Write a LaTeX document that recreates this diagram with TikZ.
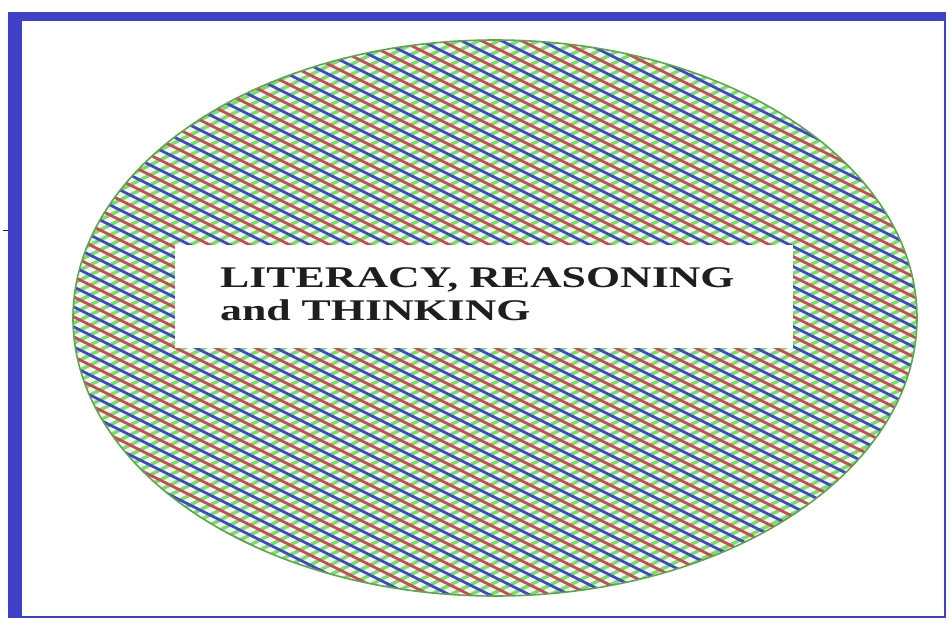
\documentclass[tikz,border=0pt]{standalone}
\usepackage{fontspec}
\setmainfont{Liberation Serif}
\newfontfamily\labelfont[FakeStretch=1.46]{Liberation Serif}
\definecolor{framblue}{RGB}{64,64,200}
\definecolor{hred}{RGB}{205,70,90}
\definecolor{hblue}{RGB}{70,70,205}
\definecolor{hgreen}{RGB}{125,220,105}
\definecolor{txtgray}{RGB}{30,30,30}
\tikzset{
  framebar/.style={fill=framblue, draw=none},
  hatchA/.style={line width=2.8pt},
  hatchB/.style={hgreen, line width=3.4pt},
  labeltext/.style={anchor=base west, inner sep=0pt, text=txtgray,
    font=\labelfont\bfseries\fontsize{30}{33}\selectfont},
  whitebox/.style={fill=white, draw=none, minimum width=618pt, minimum height=103pt,
    anchor=north west, inner sep=0pt}
}
\begin{document}
\begin{tikzpicture}[x=1pt,y=-1pt]
\useasboundingbox (0,0) rectangle (948,621);
\fill[white] (0,0) rectangle (948,621);
% frame
\fill[framebar] (8,12) rectangle (22,617);
\fill[framebar] (8,12) rectangle (946,21);
\fill[framebar] (944,12) rectangle (946,618);
\fill[framebar] (8,616) rectangle (946,618);
\coordinate (tickA) at (3,230);
\coordinate (tickB) at (8,230);
\draw[txtgray, line width=1pt] (tickA) -- (tickB);
% ellipse with hatching
\coordinate (ec) at (495,318);
\begin{scope}
  \clip (ec) ellipse [x radius=422, y radius=278];
  \fill[green!8] (ec) ellipse [x radius=422, y radius=278];
  \foreach \b in {0,10,...,1160} {
    \draw[hatchB] (60,\b) -- (940,\b-440);
  }
  \foreach \b [count=\k] in {-480,-470,...,640} {
    \pgfmathsetmacro{\m}{mod(\k,2)}
    \ifdim\m pt<0.5pt
      \draw[hatchA, hred] (60,\b) -- (940,\b+440);
    \else
      \draw[hatchA, hblue] (60,\b) -- (940,\b+440);
    \fi
  }
\end{scope}
\draw[hgreen!75!black, line width=1.6pt] (ec) ellipse [x radius=422, y radius=278];
% label box
\node[whitebox] (box) at (175,245) {};
\node[labeltext] (line1) at (220,287) {LITERACY, REASONING};
\node[labeltext] (line2) at (220,320) {and THINKING};
\end{tikzpicture}
\end{document}
